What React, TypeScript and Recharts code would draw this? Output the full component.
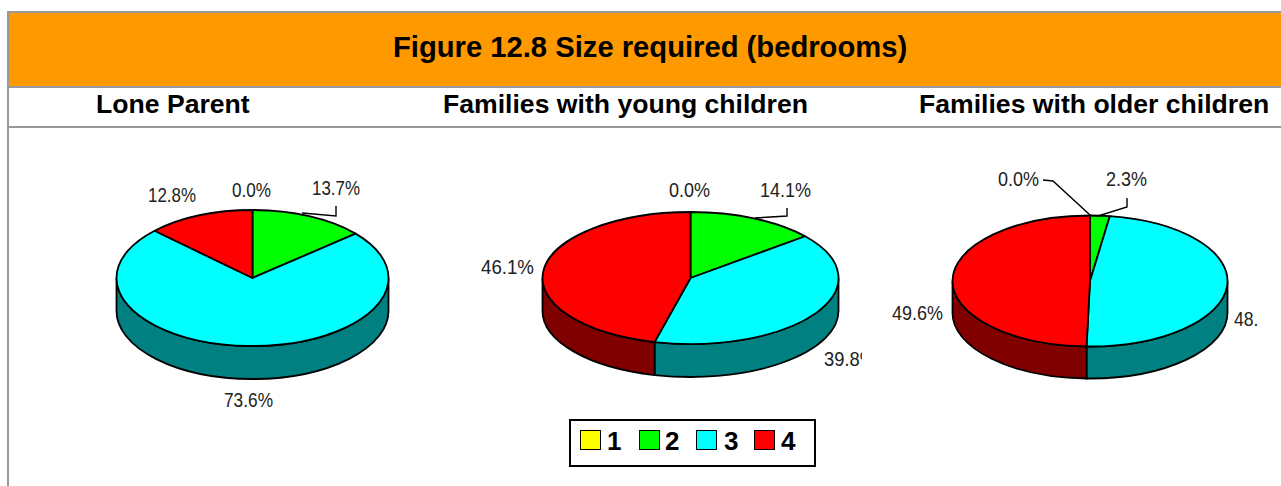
import React from 'react';
import { PieChart, Pie } from 'recharts';

const bedrooms = ['1', '2', '3', '4'];
const loneParent = [0.0, 13.7, 73.6, 12.8];
const youngChildren = [0.0, 14.1, 39.8, 46.1];
const olderChildren = [0.0, 2.3, 48.1, 49.6];

const topColors = ['#FFFF00', '#00FF00', '#00FFFF', '#FF0000'];
const sideColors = ['#808000', '#008000', '#008080', '#800000'];

const FONT = '"Liberation Sans", Arial, sans-serif';
const CHART_TOP = 130;

// label placement per slice, page coordinates: left x, baseline y, text width, leader line
type Placed = { x: number; y: number; w: number; line?: number[][] } | null;

const charts: {
  values: number[];
  left: number;
  width: number;
  cx: number;
  cy: number;
  rx: number;
  ry: number;
  depth: number;
  labels: Placed[];
}[] = [
  {
    values: loneParent,
    left: 10,
    width: 420,
    cx: 252.5,
    cy: 278,
    rx: 136,
    ry: 68,
    depth: 33,
    labels: [
      { x: 232, y: 197, w: 39 },
      { x: 312, y: 195, w: 48, line: [[302, 213], [336, 216], [336, 206]] },
      { x: 224, y: 407, w: 49 },
      { x: 148, y: 202, w: 48 },
    ],
  },
  {
    values: youngChildren,
    left: 440,
    width: 422,
    cx: 690.5,
    cy: 278,
    rx: 148,
    ry: 66,
    depth: 33,
    labels: [
      { x: 669, y: 197, w: 41 },
      { x: 760, y: 197, w: 51, line: [[755, 218], [787, 216], [787, 208]] },
      { x: 824, y: 366, w: 52 },
      { x: 481, y: 274, w: 53 },
    ],
  },
  {
    values: olderChildren,
    left: 870,
    width: 388,
    cx: 1090,
    cy: 281,
    rx: 137.5,
    ry: 65.5,
    depth: 32,
    labels: [
      { x: 998, y: 186, w: 41, line: [[1090, 215], [1053, 181], [1043, 180]] },
      { x: 1106, y: 186, w: 41, line: [[1098, 216], [1127, 207], [1127, 198]] },
      { x: 1234, y: 326, w: 50 },
      { x: 892, y: 320, w: 51 },
    ],
  },
];

function pointOn(cx: number, cy: number, rx: number, ry: number, deg: number) {
  const a = (deg * Math.PI) / 180;
  return [cx + rx * Math.cos(a), cy - ry * Math.sin(a)];
}

// Recharts only gives circular sectors, so flatten them and add the rim
const makeSlice = (ry: number, depth: number) => (props: any) => {
  const { cx, cy, outerRadius: rx, startAngle, endAngle, index } = props;
  const [sx, sy] = pointOn(cx, cy, rx, ry, startAngle);
  const [ex, ey] = pointOn(cx, cy, rx, ry, endAngle);
  const large = startAngle - endAngle > 180 ? 1 : 0;
  const top = `M${cx} ${cy}L${sx} ${sy}A${rx} ${ry} 0 ${large} 1 ${ex} ${ey}Z`;

  const wallFrom = Math.min(startAngle, 0);
  const wallTo = Math.max(endAngle, -180);
  let wall = '';
  if (wallFrom > wallTo) {
    const [ax, ay] = pointOn(cx, cy, rx, ry, wallFrom);
    const [bx, by] = pointOn(cx, cy, rx, ry, wallTo);
    wall = `M${ax} ${ay}A${rx} ${ry} 0 0 1 ${bx} ${by}L${bx} ${by + depth}A${rx} ${ry} 0 0 0 ${ax} ${ay + depth}Z`;
  }
  return (
    <g>
      {wall && <path d={wall} fill={sideColors[index]} stroke="#000" strokeWidth={1.8} />}
      <path d={top} fill={topColors[index]} stroke="#000" strokeWidth={1.8} strokeLinejoin="round" />
    </g>
  );
};

const makeLabel = (labels: Placed[], values: number[], left: number) => (props: any) => {
  const placed = labels[props.index];
  if (!placed) return null;
  const toLocal = (p: number[]) => `${p[0] - left},${p[1] - CHART_TOP}`;
  return (
    <g>
      {placed.line && <polyline points={placed.line.map(toLocal).join(' ')} fill="none" stroke="#000" strokeWidth={1.4} />}
      <text
        x={placed.x - left}
        y={placed.y - CHART_TOP}
        fontFamily={FONT}
        fontSize={20}
        fill="#222"
        textLength={placed.w}
        lengthAdjust="spacingAndGlyphs"
      >
        {values[props.index].toFixed(1)}%
      </text>
    </g>
  );
};

function LegendBox() {
  const starts = [580, 639, 696, 754];
  const digits = [607, 665, 724, 781];
  return (
    <div
      style={{
        position: 'absolute',
        left: 569,
        top: 419,
        width: 243,
        height: 44,
        border: '2px solid #000',
        background: '#fff',
      }}
    >
      {bedrooms.map((b, i) => (
        <React.Fragment key={b}>
          <div
            style={{
              position: 'absolute',
              left: starts[i] - 571,
              top: 9,
              width: 19,
              height: 18,
              background: topColors[i],
              border: '1.5px solid #000',
            }}
          />
          <div
            style={{
              position: 'absolute',
              left: digits[i] - 571,
              top: 6,
              fontFamily: FONT,
              fontWeight: 700,
              fontSize: 26,
              lineHeight: '28px',
            }}
          >
            {b}
          </div>
        </React.Fragment>
      ))}
    </div>
  );
}

const heading = (text: string, x: number): React.ReactElement => (
  <div
    style={{
      position: 'absolute',
      left: x,
      top: 89,
      fontFamily: FONT,
      fontWeight: 700,
      fontSize: 26.6,
      lineHeight: '30px',
      whiteSpace: 'nowrap',
      color: '#000',
    }}
  >
    {text}
  </div>
);

export default function App() {
  return (
    <div style={{ position: 'absolute', left: 0, top: 0, width: 1281, height: 486, overflow: 'hidden', background: '#fff' }}>
      <div style={{ position: 'absolute', left: 7, top: 11, right: 0, height: 2, background: '#999' }} />
      <div style={{ position: 'absolute', left: 7, top: 11, width: 2, bottom: 0, background: '#999' }} />
      <div
        style={{
          position: 'absolute',
          left: 9,
          top: 13,
          right: 0,
          height: 73,
          background: '#FF9900',
          fontFamily: FONT,
          fontWeight: 700,
          fontSize: 29.2,
          lineHeight: '69px',
          color: '#000',
        }}
      >
        <span style={{ position: 'absolute', left: 384, whiteSpace: 'nowrap' }}>Figure 12.8 Size required (bedrooms)</span>
      </div>
      <div style={{ position: 'absolute', left: 7, top: 86, right: 0, height: 2, background: '#999' }} />
      <div style={{ position: 'absolute', left: 7, top: 126, right: 0, height: 2, background: '#999' }} />

      {heading('Lone Parent', 96)}
      {heading('Families with young children', 443)}
      {heading('Families with older children', 919)}

      {charts.map((c, n) => {
        const rows = c.values.map((value, i) => ({ name: bedrooms[i], value, fill: topColors[i] }));
        return (
          <div key={n} style={{ position: 'absolute', left: c.left, top: CHART_TOP, width: c.width, height: 290 }}>
            <PieChart width={c.width} height={290} margin={{ top: 0, right: 0, bottom: 0, left: 0 }}>
              <Pie
                data={rows}
                dataKey="value"
                nameKey="name"
                cx={c.cx - c.left}
                cy={c.cy - CHART_TOP}
                outerRadius={c.rx}
                startAngle={90}
                endAngle={-270}
                isAnimationActive={false}
                shape={makeSlice(c.ry, c.depth)}
                label={makeLabel(c.labels, c.values, c.left)}
                labelLine={false}
              />
            </PieChart>
          </div>
        );
      })}

      <LegendBox />
    </div>
  );
}
